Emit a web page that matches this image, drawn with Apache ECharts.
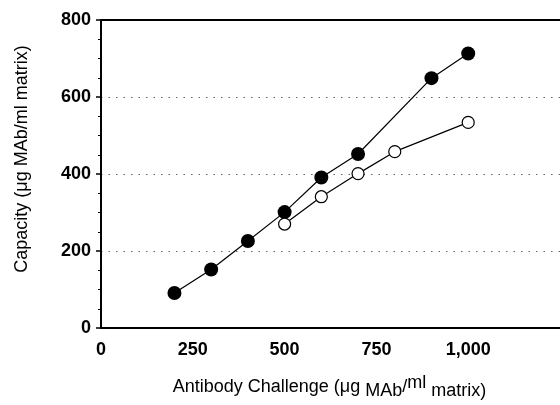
<!DOCTYPE html>
<html><head><meta charset="utf-8">
<script src="https://cdn.jsdelivr.net/npm/echarts@6/dist/echarts.min.js"></script>
<style>html,body{margin:0;padding:0;background:#fff}#c{width:560px;height:405px}</style>
</head><body><div id="c"></div>
<script>
var filledX = [200, 300, 400, 500, 600, 700, 900, 1000];
var filledY = [91, 152, 226, 301, 391, 452, 649, 713];
var openX = [500, 600, 700, 800, 1000];
var openY = [270, 341, 401, 458, 534];
var xTicks = [0, 250, 500, 750, 1000];
var yTicks = [0, 200, 400, 600, 800];

function pairs(xs, ys){ return xs.map(function(x,i){ return [x, ys[i]]; }); }
var font = '"Liberation Sans", Arial, Helvetica, sans-serif';
var chart = echarts.init(document.getElementById('c'), null, {renderer:'canvas'});
chart.setOption({
  animation:false,
  backgroundColor:'#fff',
  grid:{left:101, top:20, bottom:73.5, right:-23.5, containLabel:false},
  xAxis:[{
    type:'value', min:0, max:1250, interval:250,
    axisLine:{show:true, onZero:false, lineStyle:{color:'#000', width:2}},
    axisTick:{show:false},
    splitLine:{show:false},
    axisLabel:{color:'#000', fontFamily:font, fontSize:18, fontWeight:'bold', margin:13, showMaxLabel:false,
      formatter:function(v){ return v>=1000 ? echarts.format.addCommas(v) : String(v); }},
    name:'{n|Antibody Challenge (\u03bcg }{d|MAb}{n|/}{u|ml}{l| matrix)}',
    nameLocation:'middle', nameGap:46,
    nameTextStyle:{padding:[0,2,0,0],
      rich:{
        n:{fontFamily:font, fontSize:18, color:'#000', lineHeight:26, verticalAlign:'middle'},
        d:{fontFamily:font, fontSize:18, color:'#000', lineHeight:22, verticalAlign:'bottom', padding:[3,0,0,0]},
        u:{fontFamily:font, fontSize:18, color:'#000', lineHeight:26, verticalAlign:'top', padding:[0,0,2,0]},
        l:{fontFamily:font, fontSize:18, color:'#000', lineHeight:26, verticalAlign:'bottom', padding:[5,0,0,0]}
      }}
  },{
    type:'value', min:0, max:1250, position:'top',
    axisLine:{show:true, onZero:false, lineStyle:{color:'#000', width:2}},
    axisTick:{show:false}, axisLabel:{show:false}, splitLine:{show:false}
  }],
  yAxis:{
    type:'value', min:0, max:800, interval:200,
    axisLine:{show:true, lineStyle:{color:'#000', width:2}},
    axisTick:{show:true, length:5, lineStyle:{color:'#000', width:1.5}},
    minorTick:{show:true, splitNumber:4, length:3, lineStyle:{color:'#000', width:1}},
    axisLabel:{color:'#000', fontFamily:font, fontSize:18, fontWeight:'bold', margin:10},
    splitLine:{show:true, lineStyle:{color:'#666', width:1, type:[1.5,6]}},
    name:'Capacity (\u03bcg MAb/ml matrix)', nameLocation:'middle', nameGap:70,
    nameTextStyle:{fontFamily:font, fontSize:18, color:'#000', padding:[0,0,0,30]}
  },
  series:[{
    type:'line', data:pairs(filledX, filledY), symbol:'circle', symbolSize:14,
    itemStyle:{color:'#000'}, lineStyle:{color:'#000', width:1.2}, z:3
  },{
    type:'line', data:pairs(openX, openY), symbol:'circle', symbolSize:12,
    itemStyle:{color:'#fff', borderColor:'#000', borderWidth:1.2}, lineStyle:{color:'#000', width:1.2}, z:4
  }]
});
</script></body></html>
